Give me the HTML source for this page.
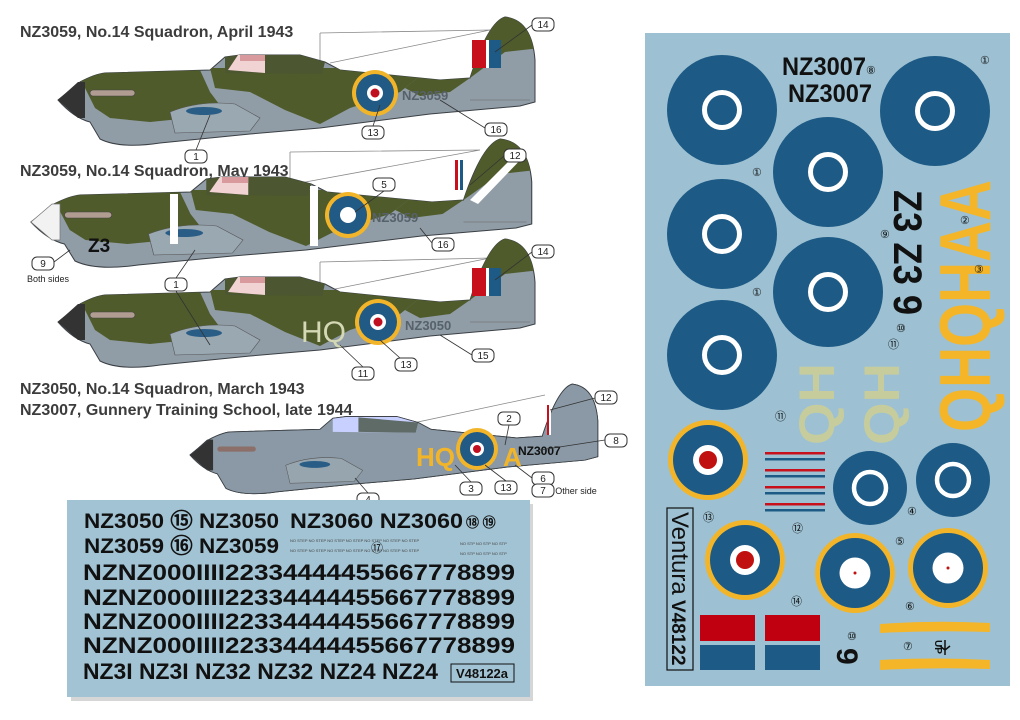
<!DOCTYPE html>
<html><head><meta charset="utf-8"><style>
html,body{margin:0;padding:0;background:#fff;width:1020px;height:720px;overflow:hidden}
svg{display:block}
text{font-family:"Liberation Sans",sans-serif}
</style></head><body>
<svg width="1020" height="720" viewBox="0 0 1020 720" xmlns="http://www.w3.org/2000/svg">
<defs>
<clipPath id="pc"><path d="M58,100 L80,82 Q95,74 105,73 L210,70 L225,57 L240,55 L300,55 L325,62 L340,70 L440,80 L470,78 Q488,22 505,17 Q532,20 535,60 L535,102 L520,106 L430,114 L320,128 L250,134 L160,143 Q120,149 100,139 L90,122 Q74,118 58,100 Z"/></clipPath>
<g id="plane">
<path d="M58,100 L80,82 Q95,74 105,73 L210,70 L225,57 L240,55 L300,55 L325,62 L340,70 L440,80 L470,78 Q488,22 505,17 Q532,20 535,60 L535,102 L520,106 L430,114 L320,128 L250,134 L160,143 Q120,149 100,139 L90,122 Q74,118 58,100 Z" fill="#909ca6" stroke="#3a3f44" stroke-width="1"/>
<g clip-path="url(#pc)">
<path d="M75,68 L200,70 L210,92 L225,112 L190,118 L150,122 L110,118 L95,108 Z" fill="#4f5b2b"/>
<path d="M210,68 L345,68 L420,76 L400,92 L350,108 L320,124 L285,110 L250,92 L215,88 Z" fill="#4f5b2b"/>
<path d="M420,76 L470,76 L495,15 L540,15 L540,48 L505,52 L470,78 L450,92 L420,96 L405,88 Z" fill="#4f5b2b"/>
</g>
<path d="M225,57 L240,55 L300,55 L325,62 L322,74 L225,73 Z" fill="#4c5630"/>
<path d="M228,70 L238,55 L265,55 L265,73 Z" fill="#f1d3d3"/>
<path d="M240,55 L265,55 L265,61 L240,61Z" fill="#d89a9c"/>
<rect x="90" y="90" width="45" height="6" rx="3" fill="#b09c90" stroke="#444" stroke-width=".6"/>
<path d="M58,100 L78,82 L85,82 L85,118 L78,118 Z" fill="#333"/>
<path d="M170,112 Q200,100 235,104 L260,118 L250,131 L175,133 Z" fill="#9aa8b2" stroke="#555" stroke-width=".6"/>
<ellipse cx="204" cy="111" rx="18" ry="4" fill="#2a5d86"/>
<path d="M470,100 L530,100" stroke="#666" stroke-width=".6"/>
</g>
<g id="roundel">
<circle r="23" fill="#f2b52a"/><circle r="19" fill="#215a84"/><circle r="8" fill="#fff"/><circle r="4.5" fill="#c01020"/>
</g>
<g id="bigr"><circle r="55" fill="#1d5a85"/><circle r="17.5" fill="none" stroke="#fff" stroke-width="5"/></g>
<g id="midr"><circle r="37" fill="#1d5a85"/><circle r="16" fill="none" stroke="#fff" stroke-width="4.5"/></g>
<g id="yr"><circle r="40" fill="#f2b52a"/><circle r="35" fill="#1d5a85"/><circle r="15" fill="#fff"/><circle r="9" fill="#c01010"/></g>
<g id="yw"><circle r="40" fill="#f2b52a"/><circle r="35" fill="#1d5a85"/><circle r="15.5" fill="#fff"/><circle r="1.5" fill="#c01010"/></g>
</defs>

<g font-weight="bold" font-size="16" fill="#3c3c3c">
<text x="20" y="37">NZ3059, No.14 Squadron, April 1943</text>
<text x="20" y="176">NZ3059, No.14 Squadron, May 1943</text>
<text x="20" y="394">NZ3050, No.14 Squadron, March 1943</text>
<text x="20" y="415">NZ3007, Gunnery Training School, late 1944</text>
</g>

<g stroke="#888" stroke-width=".8" fill="none">
<path d="M320,33 L490,30 M320,33 L320,62 M330,63 L490,30"/>
<path d="M290,152 L480,150 M290,152 L290,182 M300,183 L480,150"/>
<path d="M320,262 L490,258 M320,262 L320,290 M330,290 L490,258"/>
<path d="M380,430 L545,395"/>
</g>

<use href="#plane"/>
<rect x="472" y="40" width="14" height="28" fill="#c8101c"/><rect x="486" y="40" width="3" height="28" fill="#fff"/><rect x="489" y="40" width="12" height="28" fill="#1d5a85"/>
<use href="#roundel" x="375" y="93"/>
<text x="402" y="100" font-size="13" font-weight="bold" fill="#56616a">NZ3059</text>

<g transform="translate(-30,122) scale(1.05,1)"><use href="#plane"/></g>
<path d="M31,222 L52,204 L60,204 L60,240 L52,240 Z" fill="#f2f2f2" stroke="#777" stroke-width=".7"/>
<rect x="170" y="194" width="8" height="50" fill="#fff"/>
<rect x="310" y="186" width="8" height="60" fill="#fff"/>
<path d="M470,200 L520,150 L528,152 L478,204Z" fill="#fff"/>
<rect x="455" y="160" width="3" height="30" fill="#c8101c"/><rect x="458" y="160" width="2" height="30" fill="#fff"/><rect x="460" y="160" width="3" height="30" fill="#1d5a85"/>
<g transform="translate(348,215)"><circle r="23" fill="#f2b52a"/><circle r="19" fill="#215a84"/><circle r="8" fill="#fff"/></g>
<text x="372" y="222" font-size="13" font-weight="bold" fill="#56616a">NZ3059</text>
<text x="88" y="252" font-size="19" font-weight="bold" fill="#111">Z3</text>

<g transform="translate(0,222)"><use href="#plane"/></g>
<rect x="472" y="268" width="14" height="28" fill="#c8101c"/><rect x="486" y="268" width="3" height="28" fill="#fff"/><rect x="489" y="268" width="12" height="28" fill="#1d5a85"/>
<use href="#roundel" x="378" y="322"/>
<text x="301" y="342" font-size="30" fill="#d5d8b5">HQ</text>
<text x="405" y="330" font-size="13" font-weight="bold" fill="#56616a">NZ3050</text>

<g transform="translate(140.4,369.5) scale(.855)"><use href="#plane"/></g>
<g transform="translate(140.4,369.5) scale(.855)" clip-path="url(#pc)"><rect x="0" y="0" width="600" height="200" fill="#8a99a5"/><path d="M225,57 L240,55 L300,55 L325,62 L322,74 L225,73 Z" fill="#c8d0ff"/><path d="M255,56 L325,62 L322,74 L255,73Z" fill="#5f6b66"/><rect x="90" y="90" width="45" height="6" rx="3" fill="#8b6f68"/><path d="M58,100 L78,82 L85,82 L85,118 L78,118 Z" fill="#333"/><path d="M170,112 Q200,100 235,104 L260,118 L250,131 L175,133 Z" fill="#97a5af" stroke="#555" stroke-width=".6"/><ellipse cx="204" cy="111" rx="18" ry="4" fill="#2a5d86"/></g>
<g transform="translate(140.4,369.5) scale(.855)"><path d="M58,100 L80,82 Q95,74 105,73 L210,70 L225,57 L240,55 L300,55 L325,62 L340,70 L440,80 L470,78 Q488,22 505,17 Q532,20 535,60 L535,102 L520,106 L430,114 L320,128 L250,134 L160,143 Q120,149 100,139 L90,122 Q74,118 58,100 Z" fill="none" stroke="#3a3f44"/></g>
<rect x="547" y="405" width="2" height="30" fill="#c8101c"/><rect x="549" y="405" width="2" height="30" fill="#fff"/>
<g transform="translate(477,449)"><circle r="21" fill="#f2b52a"/><circle r="17" fill="#215a84"/><circle r="7" fill="#fff"/><circle r="4" fill="#c01020"/></g>
<text x="416" y="466" font-size="26" fill="#f2b52a" font-weight="bold">HQ</text>
<text x="503" y="466" font-size="26" fill="#f2b52a" font-weight="bold">A</text>
<text x="518" y="455" font-size="12" font-weight="bold" fill="#111">NZ3007</text>

<g fill="#fff" stroke="#333" stroke-width="1">
<rect x="532" y="18" width="22" height="13" rx="5"/><rect x="485" y="123" width="22" height="13" rx="5"/><rect x="362" y="126" width="22" height="13" rx="5"/><rect x="185" y="150" width="22" height="13" rx="5"/>
<rect x="504" y="149" width="22" height="13" rx="5"/><rect x="373" y="178" width="22" height="13" rx="5"/><rect x="432" y="238" width="22" height="13" rx="5"/><rect x="32" y="257" width="22" height="13" rx="5"/>
<rect x="165" y="278" width="22" height="13" rx="5"/><rect x="532" y="245" width="22" height="13" rx="5"/><rect x="472" y="349" width="22" height="13" rx="5"/><rect x="395" y="358" width="22" height="13" rx="5"/><rect x="352" y="367" width="22" height="13" rx="5"/>
<rect x="595" y="391" width="22" height="13" rx="5"/><rect x="605" y="434" width="22" height="13" rx="5"/><rect x="498" y="412" width="22" height="13" rx="5"/><rect x="532" y="472" width="22" height="13" rx="5"/><rect x="532" y="484" width="22" height="13" rx="5"/>
<rect x="460" y="482" width="22" height="13" rx="5"/><rect x="495" y="481" width="22" height="13" rx="5"/><rect x="357" y="493" width="22" height="13" rx="5"/>
</g>
<g font-size="10" fill="#222" text-anchor="middle">
<text x="543" y="28">14</text><text x="496" y="133">16</text><text x="373" y="136">13</text><text x="196" y="160">1</text>
<text x="515" y="159">12</text><text x="384" y="188">5</text><text x="443" y="248">16</text><text x="43" y="267">9</text>
<text x="176" y="288">1</text><text x="543" y="255">14</text><text x="483" y="359">15</text><text x="406" y="368">13</text><text x="363" y="377">11</text>
<text x="606" y="401">12</text><text x="616" y="444">8</text><text x="509" y="422">2</text><text x="543" y="482">6</text><text x="543" y="494">7</text>
<text x="471" y="492">3</text><text x="506" y="491">13</text><text x="368" y="503">4</text>
<text x="48" y="282" font-size="9">Both sides</text><text x="576" y="494" font-size="9">Other side</text>
</g>
<g stroke="#333" stroke-width=".8" fill="none">
<path d="M532,25 L495,52 M485,128 L440,100 M373,126 L380,105 M196,150 L210,115 M504,156 L470,185 M384,191 L355,212 M432,243 L420,228 M54,262 L70,250 M176,278 L195,250 M176,291 L210,345 M532,252 L495,280 M472,355 L440,335 M400,358 L380,340 M363,367 L340,345 M595,398 L550,410 M605,440 L540,450 M509,425 L505,445 M532,478 L515,465 M471,482 L455,465 M506,481 L485,465 M368,493 L355,478"/>
</g>

<rect x="71" y="504" width="462" height="197" fill="#bbb" opacity=".6"/>
<rect x="67" y="500" width="463" height="197" fill="#a2c3d3"/>
<g font-weight="bold" fill="#111">
<text x="84" y="528" font-size="21" textLength="195" lengthAdjust="spacingAndGlyphs">NZ3050 ⑮ NZ3050</text>
<text x="290" y="528" font-size="21" textLength="173" lengthAdjust="spacingAndGlyphs">NZ3060 NZ3060</text>
<text x="466" y="527" font-size="13">⑱ ⑲</text>
<text x="84" y="553" font-size="21" textLength="195" lengthAdjust="spacingAndGlyphs">NZ3059 ⑯ NZ3059</text>
<text x="83" y="580" font-size="22" textLength="432" lengthAdjust="spacingAndGlyphs">NZNZ000IIII22334444455667778899</text>
<text x="83" y="605" font-size="22" textLength="432" lengthAdjust="spacingAndGlyphs">NZNZ000IIII22334444455667778899</text>
<text x="83" y="629" font-size="22" textLength="432" lengthAdjust="spacingAndGlyphs">NZNZ000IIII22334444455667778899</text>
<text x="83" y="653" font-size="22" textLength="432" lengthAdjust="spacingAndGlyphs">NZNZ000IIII22334444455667778899</text>
<text x="83" y="679" font-size="22" textLength="355" lengthAdjust="spacingAndGlyphs">NZ3I NZ3I NZ32 NZ32 NZ24 NZ24</text>
</g>
<rect x="451" y="664" width="63" height="18" fill="none" stroke="#111"/>
<text x="482" y="678" font-size="13" font-weight="bold" text-anchor="middle" fill="#111">V48122a</text>
<g font-size="4" fill="#444"><text x="290" y="542">NO STEP  NO STEP  NO STEP  NO STEP      NO STEP  NO STEP  NO STEP</text><text x="290" y="552">NO STEP  NO STEP  NO STEP  NO STEP      NO STEP  NO STEP  NO STEP</text><text x="460" y="545">NO STP  NO STP  NO STP</text><text x="460" y="555">NO STP  NO STP  NO STP</text></g>
<text x="371" y="552" font-size="12" fill="#111">⑰</text>

<rect x="645" y="33" width="365" height="653" fill="#9dc1d2"/>
<use href="#bigr" x="722" y="110"/><use href="#bigr" x="935" y="111"/><use href="#bigr" x="828" y="172"/>
<use href="#bigr" x="722" y="234"/><use href="#bigr" x="828" y="292"/><use href="#bigr" x="722" y="355"/>
<g font-weight="bold" fill="#111" font-size="25">
<text x="782" y="75" textLength="84" lengthAdjust="spacingAndGlyphs">NZ3007</text>
<text x="788" y="102" textLength="84" lengthAdjust="spacingAndGlyphs">NZ3007</text>
</g>
<g transform="translate(894,190) rotate(90)"><text x="0" y="0" font-size="40" font-weight="bold" fill="#111" textLength="125" lengthAdjust="spacingAndGlyphs">Z3 Z3 9</text></g>
<g transform="translate(990,432) rotate(-90)"><text x="0" y="0" font-size="72" font-weight="bold" fill="#f4b528" textLength="252" lengthAdjust="spacingAndGlyphs">QHQHAA</text></g>
<g transform="translate(834,445) rotate(-90)"><text x="0" y="0" font-size="50" font-weight="bold" fill="#c7cc9d" textLength="82" lengthAdjust="spacingAndGlyphs">QH</text></g>
<g transform="translate(899,445) rotate(-90)"><text x="0" y="0" font-size="50" font-weight="bold" fill="#c7cc9d" textLength="82" lengthAdjust="spacingAndGlyphs">QH</text></g>
<use href="#yr" x="708" y="460"/><use href="#yr" x="745" y="560"/>
<use href="#midr" x="870" y="488"/><use href="#midr" x="953" y="480"/>
<use href="#yw" x="855" y="573"/><use href="#yw" x="948" y="568"/>
<g>
<rect x="765" y="452" width="60" height="2.5" fill="#c8101c"/><rect x="765" y="458" width="60" height="2.5" fill="#1d5a85"/>
<rect x="765" y="469" width="60" height="2.5" fill="#c8101c"/><rect x="765" y="475" width="60" height="2.5" fill="#1d5a85"/>
<rect x="765" y="486" width="60" height="2.5" fill="#c8101c"/><rect x="765" y="492" width="60" height="2.5" fill="#1d5a85"/>
<rect x="765" y="503" width="60" height="2.5" fill="#c8101c"/><rect x="765" y="509" width="60" height="2.5" fill="#1d5a85"/>
</g>
<rect x="667" y="508" width="26" height="162" fill="none" stroke="#111" stroke-width="1.2"/>
<g transform="translate(672,512) rotate(90)"><text x="0" y="0" font-size="24" font-family="Liberation Serif, serif" fill="#111">Ventura</text><text x="88" y="0" font-size="19" font-weight="bold" fill="#111">V48122</text></g>
<rect x="700" y="615" width="55" height="26" fill="#c00010"/><rect x="700" y="645" width="55" height="25" fill="#1d5a85"/>
<rect x="765" y="615" width="55" height="26" fill="#c00010"/><rect x="765" y="645" width="55" height="25" fill="#1d5a85"/>
<g transform="translate(837,648) rotate(90)"><text x="0" y="0" font-size="30" font-weight="bold" fill="#111">9</text></g>
<path d="M880,624 Q935,620 990,623 L990,632 Q935,630 880,633 Z" fill="#f4b528"/>
<path d="M880,660 Q935,657 990,660 L990,669 Q935,667 880,670 Z" fill="#f4b528"/>
<g transform="translate(935,640) rotate(90)"><text x="0" y="0" font-size="10" font-weight="bold" fill="#111">UP</text></g>
<path d="M945,640 L945,655 M940,646 L945,650 L950,646" stroke="#111" stroke-width="1.5" fill="none"/>
<g font-size="11" fill="#111">
<text x="866" y="74">⑧</text><text x="980" y="64">①</text><text x="752" y="176">①</text><text x="752" y="296">①</text><text x="880" y="238">⑨</text><text x="960" y="224">②</text><text x="974" y="273">③</text><text x="896" y="332">⑩</text><text x="888" y="348">⑪</text><text x="775" y="420">⑪</text><text x="703" y="521">⑬</text><text x="792" y="532">⑫</text><text x="907" y="515">④</text><text x="895" y="545">⑤</text><text x="905" y="610">⑥</text><text x="791" y="605">⑭</text><text x="847" y="640">⑩</text><text x="903" y="650">⑦</text>
</g>
</svg>
</body></html>
